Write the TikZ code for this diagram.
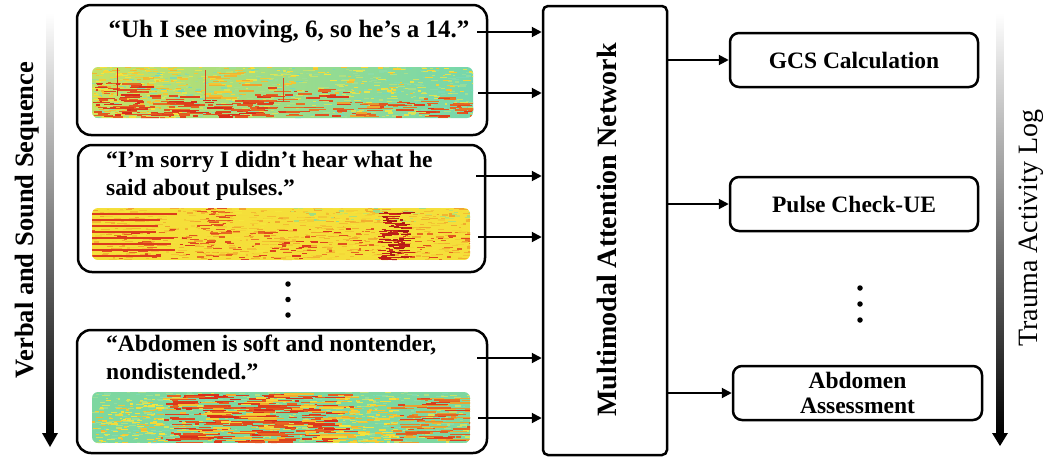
\documentclass[tikz,border=0pt]{standalone}
\usepackage{fontspec}
\setmainfont{Liberation Serif}
\usetikzlibrary{arrows.meta}
\definecolor{spG}{RGB}{125,215,160}
\definecolor{spC}{RGB}{100,215,205}
\definecolor{spY}{RGB}{245,232,60}
\definecolor{spO}{RGB}{240,145,40}
\definecolor{spR}{RGB}{215,40,25}
\definecolor{spD}{RGB}{160,20,20}
\def\slen{16}
\def\slmin{2}
\def\slw{1.2pt}
\newcommand\streaks[9]{%
  \foreach \k in {1,...,#1}{%
    \pgfmathsetmacro\sx{#2+rnd*(#3-#2)}%
    \pgfmathsetmacro\sy{#4+rnd*(#5-#4)}%
    \pgfmathsetmacro\sl{\slmin+rnd*\slen}%
    \pgfmathtruncatemacro\sp{#8+rnd*(#9-#8)}%
    \draw[line width=\slw, draw=#6!\sp!#7] (\sx,\sy) -- ++(\sl,0);
  }}
\tikzset{
  lbox/.style={draw, line width=2.5pt, rounded corners=14pt},
  rbox/.style={draw, line width=2.5pt, rounded corners=9pt, minimum width=248pt, minimum height=54pt,
    font=\bfseries\fontsize{23.5}{25}\selectfont, align=center, inner sep=0pt},
  quote/.style={font=\bfseries\fontsize{23.5}{28}\selectfont, inner sep=0pt},
  arr/.style={line width=2pt, -{Triangle[length=10pt,width=10pt]}},
  dot/.style={circle, fill, inner sep=0pt, minimum size=5.5pt},
}
\begin{document}
\begin{tikzpicture}[x=1pt,y=-1pt]
\pgfmathsetseed{1234}
\useasboundingbox (0,0) rectangle (1050,459);
\fill[white] (0,0) rectangle (1050,459);

% gradient arrows
\shade[top color=white, bottom color=black] (46.5,13) rectangle (53.5,434);
\fill[black] (42,433) -- (58,433) -- (50,447) -- cycle;
\node[rotate=90, font=\bfseries\fontsize{26.5}{28}\selectfont, inner sep=0pt] (vlab) at (27,220) {Verbal and Sound Sequence};

\shade[top color=white, bottom color=black] (996.5,13) rectangle (1003.5,434);
\fill[black] (992,433) -- (1008,433) -- (1000,446) -- cycle;
\node[rotate=90, font=\fontsize{28}{30}\selectfont, inner sep=0pt] (tlab) at (1031,228) {Trauma Activity Log};

% left boxes
\node[lbox, minimum width=410pt, minimum height=130pt] (b1) at (282,70) {};
\node[lbox, minimum width=407pt, minimum height=127pt] (b2) at (281.5,208.5) {};
\node[lbox, minimum width=410pt, minimum height=123pt] (b3) at (282,391.5) {};

\node[quote, font=\bfseries\fontsize{25}{28}\selectfont] (q1) at (289,32) {“Uh I see moving, 6, so he’s a 14.”};
\node[quote, align=left, anchor=west] (q2) at (106,176) {“I’m sorry I didn’t hear what he\\said about pulses.”};
\node[quote, align=left, anchor=west] (q3) at (106,357.5) {“Abdomen is soft and nontender,\\nondistended.”};

% spectrogram 1
\begin{scope}
\clip[rounded corners=6pt] (92,67) rectangle (473,118);
\shade[left color=spY!60!spG, right color=spG!70!spC] (92,67) rectangle (473,118);
\def\slen{6}
\streaks{700}{88}{473}{67}{118}{spY}{spC}{10}{90}
\streaks{200}{92}{180}{67}{118}{spY}{spO}{40}{100}
\streaks{120}{92}{473}{67}{95}{spY}{spO}{50}{100}
\def\slen{18}\def\slw{1.5pt}
\streaks{80}{92}{140}{82}{118}{spR}{spO}{40}{100}
\streaks{30}{140}{185}{95}{118}{spR}{spO}{30}{90}
\streaks{70}{160}{260}{100}{118}{spR}{spO}{40}{100}
\streaks{25}{200}{245}{72}{98}{spO}{spY}{30}{90}
\streaks{55}{250}{345}{88}{116}{spR}{spO}{20}{90}
\streaks{30}{330}{400}{102}{118}{spR}{spY}{30}{90}
\streaks{45}{395}{470}{98}{118}{spR}{spO}{20}{90}
\draw[line width=1pt, spR] (117,68) -- (117,96);
\draw[line width=0.9pt, spR!70!spO] (205,70) -- (205,100);
\draw[line width=0.9pt, spR!70!spO] (283,78) -- (283,102);
\end{scope}

% spectrogram 2
\begin{scope}
\def\slen{8}\def\slw{1.2pt}
\clip[rounded corners=6pt] (92,208) rectangle (470,260);
\fill[spY!90!spO] (92,208) rectangle (470,260);
\streaks{800}{88}{470}{208}{260}{spO}{spY}{0}{80}
\streaks{180}{88}{470}{228}{260}{spR}{spO}{20}{90}
\streaks{50}{290}{470}{208}{222}{spG}{spY}{20}{80}
\foreach \yy in {214,220,226,232,238,244,250,256}{
  \draw[line width=1.3pt, spR!80!spO] (92,\yy) -- ++(60+rnd*25,0);}
\def\slen{10}
\streaks{110}{378}{405}{212}{260}{spD}{spR}{10}{100}
\streaks{40}{195}{225}{208}{235}{spR}{spO}{20}{80}
\end{scope}

% spectrogram 3
\begin{scope}
\def\slen{6}\def\slw{1.2pt}
\clip[rounded corners=6pt] (92,392) rectangle (470,443);
\fill[spG] (92,392) rectangle (470,443);
\streaks{600}{88}{470}{392}{443}{spY}{spC}{10}{90}
\streaks{100}{92}{160}{400}{443}{spO}{spY}{0}{60}
\def\slen{28}\def\slw{1.4pt}
\streaks{280}{160}{330}{394}{443}{spR}{spO}{40}{100}
\streaks{80}{160}{330}{394}{443}{spY}{spO}{30}{90}
\def\slen{10}
\streaks{120}{330}{395}{395}{443}{spY}{spO}{40}{100}
\def\slen{24}
\streaks{110}{390}{470}{398}{443}{spR}{spY}{20}{95}
\end{scope}

% central box
\node[draw, line width=2.5pt, rounded corners=5pt, minimum width=124pt, minimum height=449pt] (mid) at (605,230.5) {};
\node[rotate=90, font=\bfseries\fontsize{28}{30}\selectfont, inner sep=0pt] (midlab) at (607,230) {Multimodal Attention Network};

% left connectors
\coordinate (a1) at (477,32);
\coordinate (a2) at (478,93);
\coordinate (a3) at (476,176);
\coordinate (a4) at (478,237);
\coordinate (a5) at (477,358);
\coordinate (a6) at (478,418);
\foreach \c in {a1,a2,a3,a4,a5,a6}{\draw[arr] (\c) -- (\c -| mid.west);}

% right boxes
\node[rbox] (gcs) at (854,60) {GCS Calculation};
\node[rbox] (pulse) at (854,204) {Pulse Check-UE};
\node[rbox, minimum width=249pt] (abd) at (857.5,393) {Abdomen\\Assessment};
\draw[arr] (mid.east |- gcs) -- (gcs.west);
\draw[arr] (mid.east |- pulse) -- (pulse.west);
\draw[arr] (mid.east |- abd) -- (abd.west);

% dots
\node[dot] (d1) at (288,284) {};
\node[dot] (d2) at (288,299.5) {};
\node[dot] (d3) at (288,315) {};
\node[dot] (e1) at (860,288) {};
\node[dot] (e2) at (860,304) {};
\node[dot] (e3) at (860,320) {};
\end{tikzpicture}
\end{document}
